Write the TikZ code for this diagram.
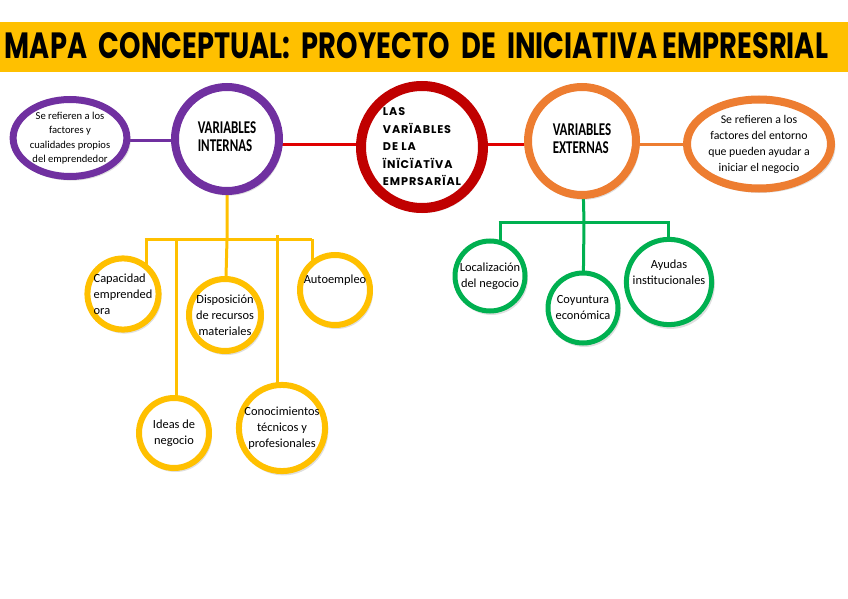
\documentclass[tikz,border=0pt]{standalone}
\usepackage{graphicx}
\usepackage{fontspec}
\setmainfont{Carlito}
\newfontfamily\titlefont{Poppins}
\newfontfamily\condfont[FakeStretch=0.72]{Carlito}
\newfontfamily\centfont[LetterSpace=8]{Poppins}
\usetikzlibrary{shapes.geometric,shadows,backgrounds}
\definecolor{tyellow}{HTML}{FFC000}
\definecolor{mpurple}{HTML}{7030A0}
\definecolor{morange}{HTML}{ED7D31}
\definecolor{mgreen}{HTML}{00B050}
\definecolor{mred}{HTML}{E00000}
\definecolor{dred}{HTML}{C00000}
\tikzset{
  shd/.style={drop shadow={opacity=0.25,shadow xshift=1.5pt,shadow yshift=-2.5pt,shadow scale=1.04}},
  circ/.style={circle,fill=white,inner sep=0pt,align=center,shd},
  ell/.style={ellipse,fill=white,inner sep=0pt,align=center,shd},
  kid/.style={font=\fontsize{12.4}{16}\selectfont},
  bigl/.style={font=\condfont\bfseries\fontsize{18}{18.5}\selectfont},
  conn/.style={line width=3pt},
}
\begin{document}
\begin{tikzpicture}[x=1pt,y=-1pt]
\useasboundingbox (0,0) rectangle (848,599);
% title band
\fill[tyellow] (0,22) rectangle (848,72);
\node[inner sep=0pt] (title) at (416.5,46) {\resizebox{823pt}{26pt}{\titlefont\bfseries MAPA\ \ CONCEPTUAL:\ \ PROYECTO\ \ DE\ \ INICIATIVA EMPRESRIAL}};

% main row
\node[ell,draw=mpurple,line width=7pt,minimum width=103pt,minimum height=77pt,
      font=\fontsize{10.6}{14.5}\selectfont] (le) at (70,138)
      {Se refieren a los\\factores y\\cualidades propios\\del emprendedor};
\node[circ,draw=mpurple,line width=8pt,minimum size=104pt,bigl] (vi) at (227,139)
      {\begin{tabular}{@{}l@{}}VARIABLES\\INTERNAS\end{tabular}};
\node[circ,draw=dred,line width=10pt,minimum size=122pt] (ce) at (422,147)
      {\centfont\bfseries\fontsize{11.2}{17.5}\selectfont\begin{tabular}{@{}l@{}}LAS\\VARÏABLES\\DE LA\\ÏNÏCÏATÏVA\\EMPRSARÏAL\end{tabular}};
\node[circ,draw=morange,line width=8pt,minimum size=108pt,bigl] (ve) at (582,141)
      {\begin{tabular}{@{}l@{}}VARIABLES\\EXTERNAS\end{tabular}};
\node[ell,draw=morange,line width=8pt,minimum width=144pt,minimum height=89pt,
      font=\fontsize{11.8}{16}\selectfont] (re) at (759,144)
      {Se refieren a los\\factores del entorno\\que pueden ayudar a\\iniciar el negocio};

% yellow children
\node[circ,draw=tyellow,line width=6pt,minimum size=70pt,kid,align=left] (cap) at (123,294)
      {Capacidad\\emprended\\ora};
\node[circ,draw=tyellow,line width=6pt,minimum size=72pt,kid] (dis) at (225,315)
      {Disposición\\de recursos\\materiales};
\node[circ,draw=tyellow,line width=6pt,minimum size=70pt,kid] (aut) at (335,290)
      {Autoempleo\\[6pt]};
\node[circ,draw=tyellow,line width=6pt,minimum size=70pt,kid] (ide) at (174,433)
      {Ideas de\\negocio};
\node[circ,draw=tyellow,line width=6pt,minimum size=72pt,kid] (con) at (282,428)
      {Conocimientos\\técnicos y\\profesionales};

% green children
\node[circ,draw=mgreen,line width=5pt,minimum size=70pt,kid] (loc) at (490,276)
      {Localización\\del negocio};
\node[circ,draw=mgreen,line width=5pt,minimum size=70pt,kid] (coy) at (583,308)
      {Coyuntura\\económica};
\node[circ,draw=mgreen,line width=5pt,minimum size=72pt,kid] (ayu) at (669,282)
      {Ayudas\\institucionales\\[4pt]};

% connector levels
\coordinate (lp) at (0,140);
\coordinate (lr) at (0,144);
\coordinate (lo) at (0,144);
\coordinate (yj) at (227,239);
\coordinate (y1) at (146,239);
\coordinate (y2) at (176,239);
\coordinate (y4) at (277,235);
\coordinate (y5) at (312,239);
\coordinate (gj) at (584,222);
\coordinate (g1) at (500,222);
\coordinate (g3) at (668,222);
\begin{scope}[on background layer]
\draw[conn,mpurple] (le.center |- lp) -- (vi.center |- lp);
\draw[conn,mred] (vi.center |- lr) -- (ce.center |- lr);
\draw[conn,mred] (ce.center |- lr) -- (ve.center |- lr);
\draw[conn,morange] (ve.center |- lo) -- (re.center |- lo);
\draw[conn,tyellow] (vi.center) -- (yj) -- (dis.center);
\draw[conn,tyellow] (y1 |- yj) ++(-1.5,0) -- (y5 |- yj);
\draw[conn,tyellow] (y1) -- (y1 |- cap.center);
\draw[conn,tyellow] (y2) -- (y2 |- ide.center);
\draw[conn,tyellow] (y4) -- (y4 |- con.center);
\draw[conn,tyellow] (y5) -- (y5 |- aut.center);
\draw[conn,mgreen] (ve.center) -- (gj) -- (coy.center);
\draw[conn,mgreen] (g1) ++(-1.5,0) -- ++(171,0);
\draw[conn,mgreen] (g1) -- (g1 |- loc.center);
\draw[conn,mgreen] (g3) -- (g3 |- ayu.center);
\end{scope}
\end{tikzpicture}
\end{document}
